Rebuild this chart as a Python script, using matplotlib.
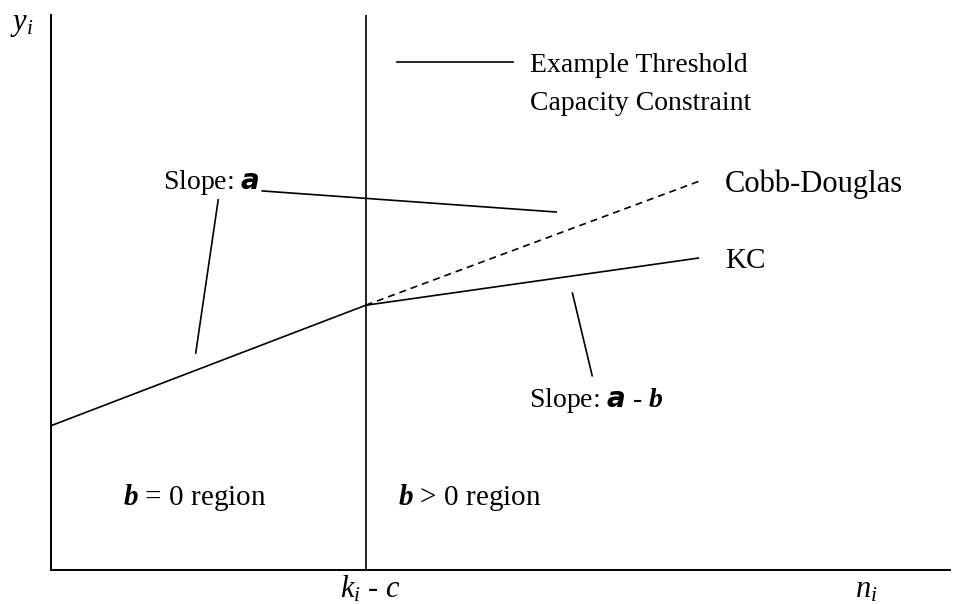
import matplotlib
matplotlib.use('Agg')
import matplotlib.pyplot as plt

# fonts: Times-like serif, bold italic greek stand-ins
plt.rcParams['font.family'] = ['Liberation Serif', 'DejaVu Serif']
plt.rcParams['mathtext.fontset'] = 'custom'
plt.rcParams['mathtext.rm'] = 'Liberation Serif'
plt.rcParams['mathtext.it'] = 'Liberation Serif:italic'
plt.rcParams['mathtext.bfit'] = 'DejaVu Sans:italic:bold'
plt.rcParams['mathtext.sf'] = 'Liberation Serif:italic:bold'

# conceptual data (n on x, y on y, both 0..100)
threshold = 35
kc_n = [0, 35, 72]
kc_y = [26, 47.7, 56.2]
cd_n = [35, 72]
cd_y = [47.7, 70]

fs = 21
lw = 1.2

fig = plt.figure(figsize=(9.65, 6.04), dpi=100)
ax = fig.add_axes([51 / 965, 34 / 604, 899 / 965, 555 / 604])
ax.set_xlim(0, 100)
ax.set_ylim(0, 100)
for s in ['top', 'right']:
    ax.spines[s].set_visible(False)
for s in ['left', 'bottom']:
    ax.spines[s].set_linewidth(1.4)
ax.set_xticks([])
ax.set_yticks([])

# threshold and curves
ax.axvline(threshold, color='k', lw=lw)
ax.plot(kc_n, kc_y, color='k', lw=lw)
ax.plot(cd_n, cd_y, color='k', lw=lw, dashes=(4.2, 3))

# legend line for the threshold
ax.plot([38.5, 51.4], [91.5, 91.5], color='k', lw=lw)
ax.text(53.3, 89.7, 'Example Threshold', fontsize=20, va='baseline')
ax.text(53.3, 82.9, 'Capacity Constraint', fontsize=20, va='baseline')

# slope pointers
ax.plot([18.6, 16.1], [66.7, 39.1], color='k', lw=lw)
ax.plot([23.5, 56.2], [68.3, 64.5], color='k', lw=lw)
ax.plot([58.0, 60.2], [49.9, 35.0], color='k', lw=lw)

ax.text(12.5, 68.6, r'Slope: $\mathbfit{a}$', fontsize=20, va='baseline')
ax.text(53.2, 29.4, r'Slope: $\mathbfit{a}$ - $\mathsf{b}$', fontsize=20, va='baseline')
ax.text(75.0, 68.1, 'Cobb-Douglas', fontsize=22, va='baseline')
ax.text(75.0, 54.4, 'KC', fontsize=fs, va='baseline')

ax.text(8.0, 11.7, r'$\mathsf{b}$ = 0 region', fontsize=fs, va='baseline')
ax.text(38.6, 11.7, r'$\mathsf{b}$ > 0 region', fontsize=fs, va='baseline')

# axis labels
ax.text(-4.6, 97.3, r'$y_i$', fontsize=22, va='baseline', clip_on=False)
ax.text(32.1, -5.0, r'$k_i$ - $c$', fontsize=22, va='baseline', clip_on=False)
ax.text(89.4, -5.0, r'$n_i$', fontsize=22, va='baseline', clip_on=False)

fig.savefig('out.png', dpi=100)
